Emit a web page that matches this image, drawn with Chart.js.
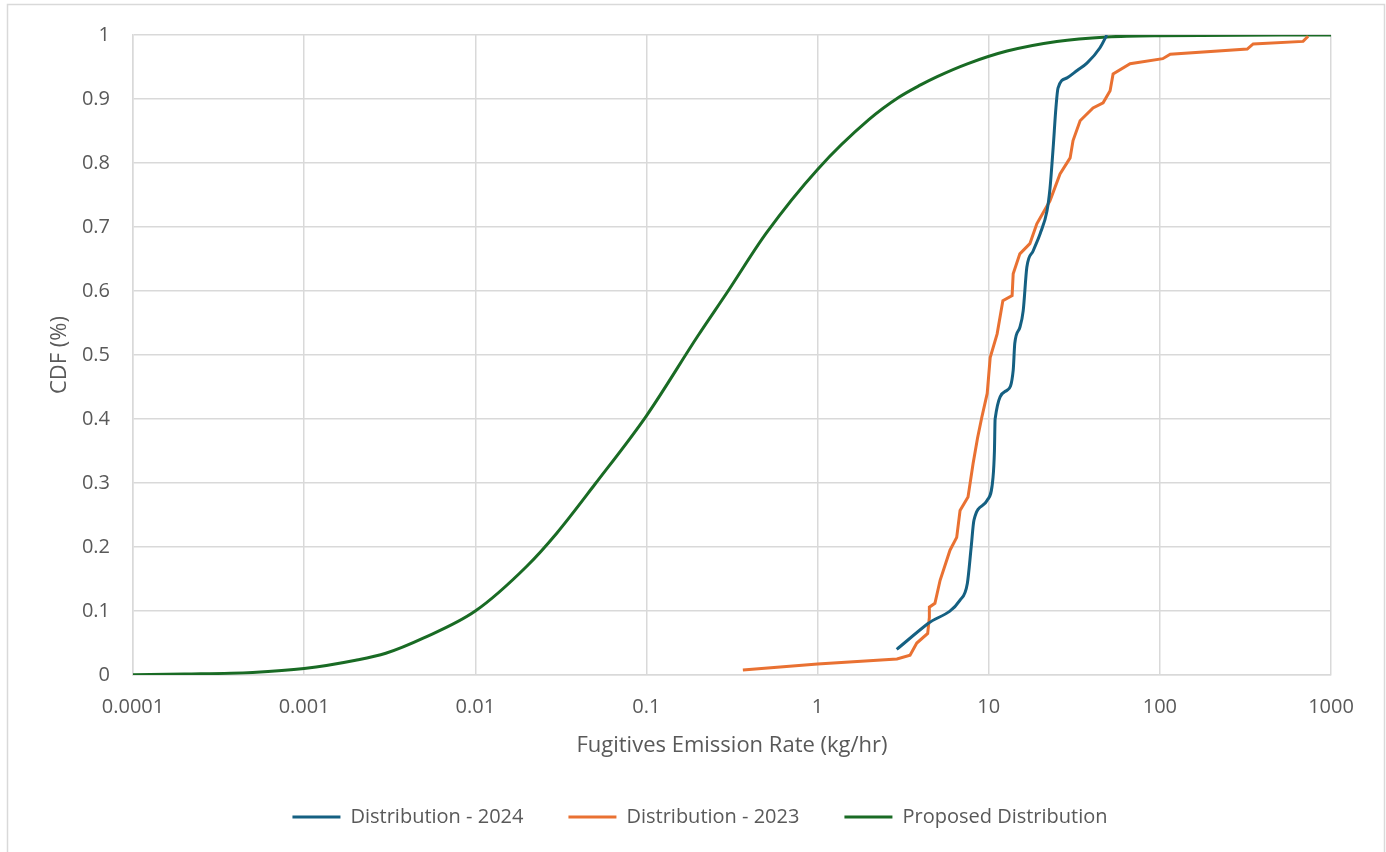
<!DOCTYPE html>
<html>
<head>
<meta charset="utf-8">
<script src="https://cdn.jsdelivr.net/npm/chart.js@4"></script>
<style>
  html, body { margin: 0; padding: 0; background: #ffffff; }
  #wrap { width: 1386px; height: 852px; }
</style>
</head>
<body>
<div id="wrap"><canvas id="c" width="1386" height="852"></canvas></div>
<script>
// ---- Data ----
const seriesNames = ['Distribution - 2024', 'Distribution - 2023', 'Proposed Distribution'];
const seriesColors = ['#156082', '#E97132', '#196B24'];

const x2024 = [2.9, 4.4, 6.8, 7.5, 7.9, 8.2, 9.8, 10.6, 10.8, 10.9, 12.8, 13.9, 14.2, 15.2, 15.9, 16.7, 18.2, 20.0, 21.9, 22.8, 23.8, 24.7, 25.4, 28.7, 33, 37.5, 44.7, 49];
const y2024 = [0.04, 0.08, 0.117, 0.143, 0.20, 0.242, 0.273, 0.309, 0.35, 0.40, 0.445, 0.476, 0.518, 0.543, 0.569, 0.637, 0.663, 0.69, 0.725, 0.76, 0.824, 0.886, 0.917, 0.933, 0.945, 0.956, 0.98, 1.0];

const x2023 = [0.366, 1, 2.91, 3.47, 3.8, 4.4, 4.5, 4.5, 4.85, 5.2, 5.94, 6.5, 6.8, 7.57, 8.1, 8.6, 9.1, 9.8, 10.2, 11.2, 12.1, 13.7, 13.9, 15.2, 17.4, 19.1, 22.8, 26.1, 29.9, 31.1, 34.2, 40.7, 46.6, 51.2, 53.3, 67, 104, 115, 324, 351, 687, 735];
const y2023 = [0.008, 0.017, 0.025, 0.031, 0.05, 0.065, 0.09, 0.106, 0.112, 0.148, 0.195, 0.215, 0.257, 0.278, 0.33, 0.37, 0.402, 0.44, 0.496, 0.533, 0.585, 0.593, 0.627, 0.658, 0.674, 0.705, 0.741, 0.783, 0.808, 0.835, 0.866, 0.886, 0.894, 0.913, 0.939, 0.955, 0.963, 0.97, 0.978, 0.986, 0.99, 0.998];

const xProposed = [0.0001, 0.0002, 0.0005, 0.001, 0.002, 0.003, 0.005, 0.01, 0.02, 0.03, 0.05, 0.1, 0.2, 0.3, 0.5, 1, 2, 3, 4, 5, 7.5, 12.8, 25, 49, 100, 1000];
const yProposed = [0.0005, 0.0015, 0.004, 0.01, 0.023, 0.034, 0.058, 0.10, 0.17, 0.222, 0.298, 0.405, 0.53, 0.60, 0.69, 0.79, 0.868, 0.903, 0.922, 0.935, 0.955, 0.975, 0.99, 0.997, 0.999, 1.0];

const xTickValues = [0.0001, 0.001, 0.01, 0.1, 1, 10, 100, 1000];
const xTickLabels = ['0.0001', '0.001', '0.01', '0.1', '1', '10', '100', '1000'];
const yTickLabels = ['0', '0.1', '0.2', '0.3', '0.4', '0.5', '0.6', '0.7', '0.8', '0.9', '1'];

const xTitle = 'Fugitives Emission Rate (kg/hr)';
const yTitle = 'CDF (%)';

// ---- Build ----
function pts(xs, ys) { return xs.map((x, i) => ({ x: x, y: ys[i] })); }

const FONT = '"Open Sans", "Liberation Sans", sans-serif';
const TXT = '#595959';
const GRID = '#d9d9d9';

const framePlugin = {
  id: 'frame',
  beforeDraw(chart) {
    const ctx = chart.ctx;
    ctx.save();
    ctx.fillStyle = '#ffffff';
    ctx.fillRect(0, 0, chart.width, chart.height);
    ctx.strokeStyle = GRID;
    ctx.lineWidth = 1.5;
    ctx.strokeRect(7.5, 4.5, 1377, 900);
    ctx.restore();
  }
};

const ctx = document.getElementById('c').getContext('2d');
new Chart(ctx, {
  type: 'line',
  data: {
    datasets: [
      { label: seriesNames[0], data: pts(x2024, y2024), borderColor: seriesColors[0], backgroundColor: seriesColors[0], borderWidth: 3, pointRadius: 0, cubicInterpolationMode: 'monotone', fill: false },
      { label: seriesNames[1], data: pts(x2023, y2023), borderColor: seriesColors[1], backgroundColor: seriesColors[1], borderWidth: 3, pointRadius: 0, tension: 0, fill: false },
      { label: seriesNames[2], data: pts(xProposed, yProposed), borderColor: seriesColors[2], backgroundColor: seriesColors[2], borderWidth: 3, pointRadius: 0, cubicInterpolationMode: 'monotone', fill: false }
    ]
  },
  options: {
    responsive: false,
    animation: false,
    layout: { padding: { left: 69, right: 55, top: 34, bottom: 15 } },
    plugins: {
      tooltip: { enabled: false },
      legend: {
        position: 'bottom',
        labels: {
          color: TXT,
          font: { family: FONT, size: 20 },
          boxWidth: 48,
          boxHeight: 3,
          padding: 45,
          generateLabels(chart) {
            return chart.data.datasets.map((ds, i) => ({
              text: ds.label, fillStyle: ds.borderColor, strokeStyle: ds.borderColor,
              lineWidth: 0, hidden: false, datasetIndex: i, fontColor: TXT
            }));
          }
        }
      }
    },
    scales: {
      x: {
        type: 'logarithmic',
        min: 0.0001, max: 1000,
        afterBuildTicks(scale) { scale.ticks = xTickValues.map(v => ({ value: v })); },
        afterFit(scale) { scale.height = 87; },
        grid: { color: GRID, lineWidth: 1.5, drawTicks: false },
        border: { color: GRID, width: 1.5 },
        ticks: {
          color: TXT, font: { family: FONT, size: 20 }, padding: 20, maxRotation: 0, autoSkip: false,
          callback(v) { const i = xTickValues.findIndex(t => Math.abs(t - v) / t < 1e-6); return i >= 0 ? xTickLabels[i] : ''; }
        },
        title: { display: true, text: xTitle, color: TXT, font: { family: FONT, size: 22 }, padding: { top: 4, bottom: 3 } }
      },
      y: {
        type: 'linear',
        min: 0, max: 1,
        afterFit(scale) { scale.width = 64; },
        grid: { color: GRID, lineWidth: 1.5, drawTicks: false },
        border: { color: GRID, width: 1.5 },
        ticks: {
          color: TXT, font: { family: FONT, size: 20 }, padding: 23, stepSize: 0.1,
          callback(v) { const i = Math.round(v * 10); return yTickLabels[i]; }
        },
        title: { display: true, text: yTitle, color: TXT, font: { family: FONT, size: 22 }, padding: { top: -22, bottom: 0 } }
      }
    }
  },
  plugins: [framePlugin]
});
</script>
</body>
</html>
